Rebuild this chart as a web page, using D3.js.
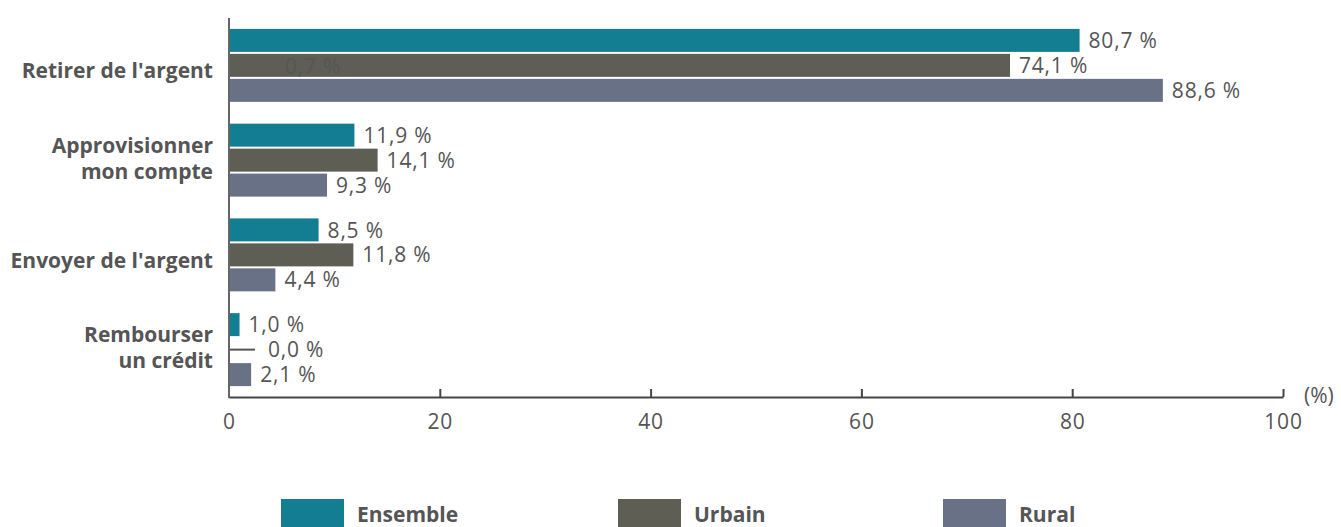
<!DOCTYPE html>
<html>
<head>
<meta charset="utf-8">
<script src="https://cdn.jsdelivr.net/npm/d3@7/dist/d3.min.js"></script>
<style>
  html, body { margin: 0; padding: 0; background: #fff; }
  svg { display: block; }
</style>
</head>
<body>
<svg id="chart" width="1341" height="527"></svg>
<script>
// Usages du compte, par milieu de résidence (%)
const categories = [
  ["Retirer de l'argent"],
  ["Approvisionner", "mon compte"],
  ["Envoyer de l'argent"],
  ["Rembourser", "un crédit"]
];
const series = ["Ensemble", "Urbain", "Rural"];
const ensemble = [80.7, 11.9, 8.5, 1.0];
const urbain   = [74.1, 14.1, 11.8, 0.0];
const rural    = [88.6, 9.3, 4.4, 2.1];
const xTicks = [0, 20, 40, 60, 80, 100];
const colors = ["#137d92", "#5e5e55", "#687185"];
// leftover label printed inside the first "Urbain" bar
const strayLabel = { category: 0, series: "Urbain", value: 0.7 };

const values = [ensemble, urbain, rural];
const fmt = v => v.toFixed(1).replace(".", ",") + " %";

const svg = d3.select("#chart");
const margin = { left: 229, right: 58, top: 18, bottom: 130 };
const W = 1341, H = 527;

const x = d3.scaleLinear().domain([0, 100]).range([margin.left, W - margin.right]);
const y0 = d3.scaleBand().domain(d3.range(categories.length))
  .range([margin.top, 397]).paddingInner(0.23).paddingOuter(0.115);
const y1 = d3.scaleBand().domain(series).range([0, y0.bandwidth()]).paddingInner(0.08);

const textColor = "#555555";
const axisColor = "#666666";
const valueFont = { family: "'Open Sans', sans-serif", size: 21, spacing: 0.8 };
const boldFont = "'Open Sans', sans-serif";

function valueText(sel) {
  return sel
    .attr("dominant-baseline", "middle")
    .attr("font-family", valueFont.family)
    .attr("font-size", valueFont.size)
    .attr("letter-spacing", valueFont.spacing)
    .attr("fill", textColor);
}

// bars
const groups = svg.append("g").selectAll("g")
  .data(categories.map((c, i) => ({ i, c })))
  .join("g")
  .attr("transform", d => `translate(0,${y0(d.i)})`);

groups.each(function(d) {
  const g = d3.select(this);
  series.forEach((s, si) => {
    const v = values[si][d.i];
    const yy = y1(s);
    if (v > 0) {
      g.append("rect")
        .attr("x", x(0)).attr("y", yy)
        .attr("width", x(v) - x(0)).attr("height", y1.bandwidth())
        .attr("fill", colors[si]);
    } else {
      // zero value: short leader stub
      g.append("line")
        .attr("x1", x(0)).attr("x2", x(0) + 26)
        .attr("y1", yy + y1.bandwidth() / 2).attr("y2", yy + y1.bandwidth() / 2)
        .attr("stroke", "#555").attr("stroke-width", 2);
    }
    g.append("text")
      .attr("x", (v > 0 ? x(v) : x(0) + 30) + 9)
      .attr("y", yy + y1.bandwidth() / 2 + 2)
      .call(valueText)
      .text(fmt(v));
  });
});

// stray label
svg.append("text")
  .attr("x", x(0) + 56)
  .attr("y", y0(strayLabel.category) + y1(strayLabel.series) + y1.bandwidth() / 2 + 3)
  .call(valueText)
  .attr("fill", "#555850")
  .text(fmt(strayLabel.value));

// category labels
categories.forEach((lines, i) => {
  const cy = y0(i) + y0.bandwidth() / 2 + (lines.length === 1 ? 7 : 0);
  const lh = 26;
  const t = svg.append("text")
    .attr("text-anchor", "end")
    .attr("font-family", boldFont)
    .attr("font-weight", "bold")
    .attr("font-size", 21)
    .attr("fill", textColor);
  lines.forEach((l, li) => {
    t.append("tspan")
      .attr("x", 213)
      .attr("y", cy + (li - (lines.length - 1) / 2) * lh)
      .attr("dominant-baseline", "middle")
      .text(l);
  });
});

// axes
svg.append("line")
  .attr("x1", x(0)).attr("x2", x(0))
  .attr("y1", margin.top).attr("y2", 398)
  .attr("stroke", axisColor).attr("stroke-width", 2);

const xAxis = d3.axisBottom(x).tickValues(xTicks).tickSize(0).tickFormat(d3.format("d"));
const gx = svg.append("g").attr("transform", "translate(0,397)").call(xAxis);
gx.select(".domain").attr("stroke", "#444").attr("stroke-width", 2);
gx.selectAll(".tick text")
  .attr("dy", 0).attr("y", 26)
  .call(valueText);
gx.selectAll(".tick").filter(d => d > 0).append("line")
  .attr("y1", 0).attr("y2", -8)
  .attr("stroke", "#444").attr("stroke-width", 2);

svg.append("text")
  .attr("x", 1304).attr("y", 397)
  .call(valueText)
  .attr("letter-spacing", 0)
  .text("(%)");

// legend
const legendX = [281, 618, 943];
const lg = svg.append("g").selectAll("g").data(series).join("g")
  .attr("transform", (d, i) => `translate(${legendX[i]},499)`);
lg.append("rect").attr("width", 63).attr("height", 28).attr("fill", (d, i) => colors[i]);
lg.append("text")
  .attr("x", 76).attr("y", 17)
  .attr("dominant-baseline", "middle")
  .attr("font-family", boldFont)
  .attr("font-weight", "bold")
  .attr("font-size", 21)
  .attr("fill", textColor)
  .text(d => d);
</script>
</body>
</html>
